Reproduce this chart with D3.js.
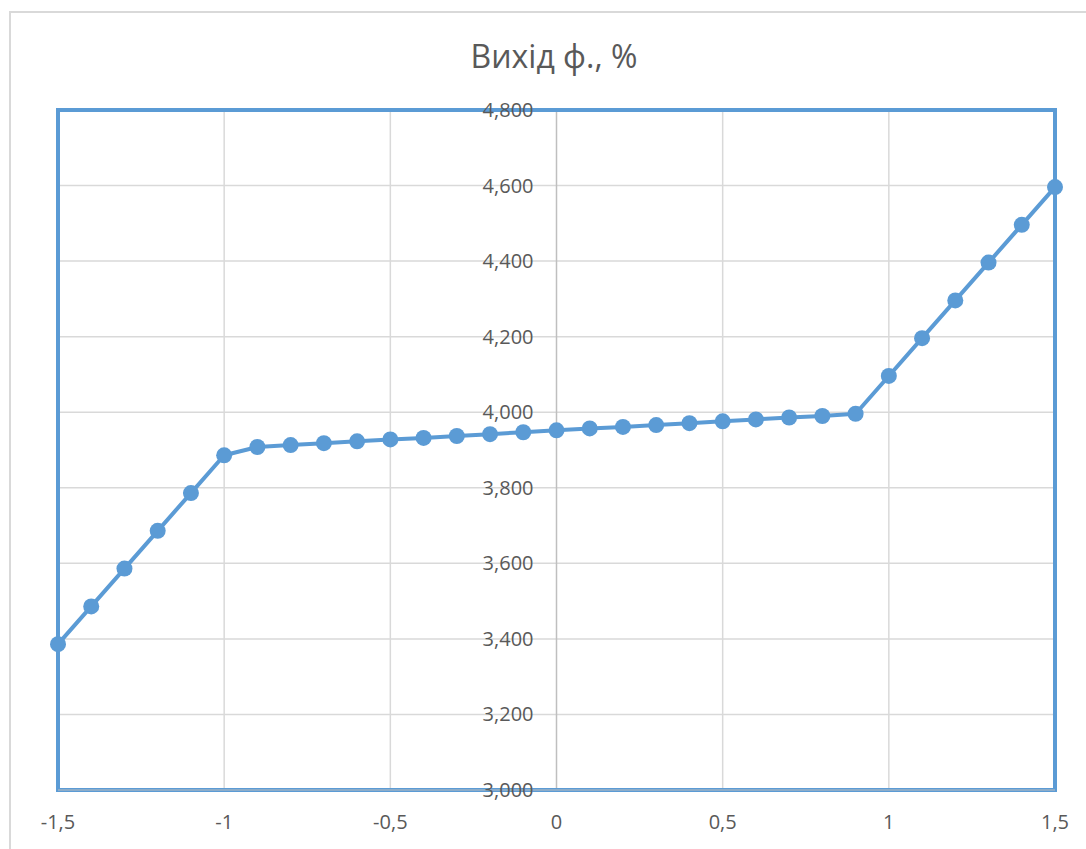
<!DOCTYPE html>
<html>
<head>
<meta charset="utf-8">
<script src="https://cdn.jsdelivr.net/npm/d3@7"></script>
<style>
  body { margin: 0; background: #fff; }
  text { font-family: "Open Sans", "Noto Sans", sans-serif; fill: #595959; }
</style>
</head>
<body>
<div id="chart"></div>
<script>
const xValues = [-1.5, -1.4, -1.3, -1.2, -1.1, -1.0, -0.9, -0.8, -0.7, -0.6, -0.5,
  -0.4, -0.3, -0.2, -0.1, 0, 0.1, 0.2, 0.3, 0.4, 0.5, 0.6, 0.7, 0.8, 0.9,
  1.0, 1.1, 1.2, 1.3, 1.4, 1.5];
const yValues = [3.386, 3.486, 3.586, 3.686, 3.786, 3.886, 3.908, 3.913, 3.918, 3.923, 3.928,
  3.932, 3.937, 3.942, 3.947, 3.952, 3.957, 3.961, 3.966, 3.971, 3.976, 3.981, 3.986, 3.99, 3.996,
  4.096, 4.196, 4.296, 4.396, 4.496, 4.596];
const xTicks = [-1.5, -1, -0.5, 0, 0.5, 1, 1.5];
const yTicks = [3.0, 3.2, 3.4, 3.6, 3.8, 4.0, 4.2, 4.4, 4.6, 4.8];
const title = 'Вихід ф., %';

const width = 1086, height = 849;
const blue = '#5b9bd5';

const svg = d3.select('#chart').append('svg')
    .attr('width', width)
    .attr('height', height);

// chart frame
svg.append('rect')
    .attr('x', 10)
    .attr('y', 12)
    .attr('width', width + 20)
    .attr('height', height + 20)
    .attr('fill', 'none')
    .attr('stroke', '#d9d9d9')
    .attr('stroke-width', 2);

const x = d3.scaleLinear().domain([-1.5, 1.5]).range([58, 1055]);
const y = d3.scaleLinear().domain([3.0, 4.8]).range([790, 110]);

const fmtY = d => d3.format('.3f')(d).replace('.', ',');
const fmtX = d => String(d).replace('.', ',');

// gridlines
svg.append('g').selectAll('line.hgrid')
    .data(yTicks).enter()
    .append('line')
    .attr('x1', x(-1.5)).attr('x2', x(1.5))
    .attr('y1', d => y(d)).attr('y2', d => y(d))
    .attr('stroke', '#d9d9d9')
    .attr('stroke-width', 1.5);

svg.append('g').selectAll('line.vgrid')
    .data(xTicks.filter(d => d !== 0)).enter()
    .append('line')
    .attr('x1', d => x(d)).attr('x2', d => x(d))
    .attr('y1', y(4.8)).attr('y2', y(3.0))
    .attr('stroke', '#d9d9d9')
    .attr('stroke-width', 1.5);

// vertical axis at zero
svg.append('line')
    .attr('x1', x(0)).attr('x2', x(0))
    .attr('y1', y(4.8)).attr('y2', y(3.0))
    .attr('stroke', '#bfbfbf')
    .attr('stroke-width', 1.5);

// plot area border
svg.append('rect')
    .attr('x', x(-1.5))
    .attr('y', y(4.8))
    .attr('width', x(1.5) - x(-1.5))
    .attr('height', y(3.0) - y(4.8))
    .attr('fill', 'none')
    .attr('stroke', blue)
    .attr('stroke-width', 4);

// horizontal axis line
svg.append('line')
    .attr('x1', x(-1.5)).attr('x2', x(1.5))
    .attr('y1', y(3.0)).attr('y2', y(3.0))
    .attr('stroke', '#bfbfbf')
    .attr('stroke-width', 1);

// y tick labels
svg.append('g').selectAll('text')
    .data(yTicks).enter()
    .append('text')
    .attr('x', x(0) - 23)
    .attr('y', d => y(d))
    .attr('dy', '0.35em')
    .attr('font-size', 20)
    .attr('text-anchor', 'end')
    .text(fmtY);

// x tick labels
svg.append('g').selectAll('text')
    .data(xTicks).enter()
    .append('text')
    .attr('x', d => x(d))
    .attr('y', 822)
    .attr('dy', '0.35em')
    .attr('font-size', 20)
    .attr('text-anchor', 'middle')
    .text(fmtX);

// title
svg.append('text')
    .attr('x', 554)
    .attr('y', 68)
    .attr('font-size', 32)
    .attr('text-anchor', 'middle')
    .text(title);

// the series
const points = xValues.map((v, i) => ({ x: v, y: yValues[i] }));

svg.append('path')
    .datum(points)
    .attr('fill', 'none')
    .attr('stroke', blue)
    .attr('stroke-width', 4)
    .attr('stroke-linejoin', 'round')
    .attr('d', d3.line().x(d => x(d.x)).y(d => y(d.y)));

svg.append('g').selectAll('circle')
    .data(points).enter()
    .append('circle')
    .attr('cx', d => x(d.x))
    .attr('cy', d => y(d.y))
    .attr('r', 8)
    .attr('fill', blue);
</script>
</body>
</html>
